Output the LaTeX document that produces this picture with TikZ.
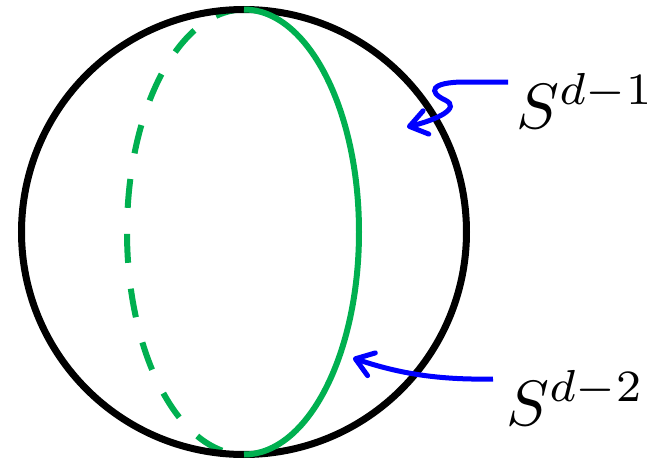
\documentclass[tikz,border=0pt]{standalone}
\usepackage{graphicx}
\usetikzlibrary{arrows.meta}
\definecolor{sgreen}{RGB}{0,176,80}
\definecolor{sblue}{RGB}{0,0,255}
\newcommand{\biglabel}[1]{\scalebox{6.4}{$#1$}}
\begin{document}
\begin{tikzpicture}[x=1pt,y=-1pt,
  sphere/.style={draw=black,line width=7pt},
  equator/.style={draw=sgreen,line width=6pt},
  hidden/.style={equator,dash pattern=on 29pt off 26pt},
  pointer/.style={draw=sblue,line width=5pt,-{Straight Barb[length=17pt,width=24pt,round]}},
  label/.style={anchor=base west,inner sep=0pt}]
\useasboundingbox (0,0) rectangle (657,463);
\coordinate (c) at (244,232);
% hidden half of the equator
\draw[hidden] (244,9.5) arc[start angle=90,end angle=270,x radius=117pt,y radius=222.5pt];
% sphere
\draw[sphere] (c) circle[radius=222.5pt];
% visible half of the equator
\draw[equator] (244,9.5) arc[start angle=90,end angle=-90,x radius=115pt,y radius=222.5pt];
% labels
\node[label] (t1) at (516,128) {\biglabel{S^{d-1}}};
\node[label] (t2) at (506,425) {\biglabel{S^{d-2}}};
\coordinate (a1s) at (508,82);
\coordinate (a1e) at (407,127);
\coordinate (a2s) at (493,379);
\coordinate (a2e) at (353,358);
\draw[pointer] (a1s) -- (465,82) .. controls (430,82) and (428,92) .. (445,100) .. controls (462,108) and (436,120) .. (a1e);
\draw[pointer] (a2s) .. controls (440,380) and (400,374) .. (a2e);
\end{tikzpicture}
\end{document}
